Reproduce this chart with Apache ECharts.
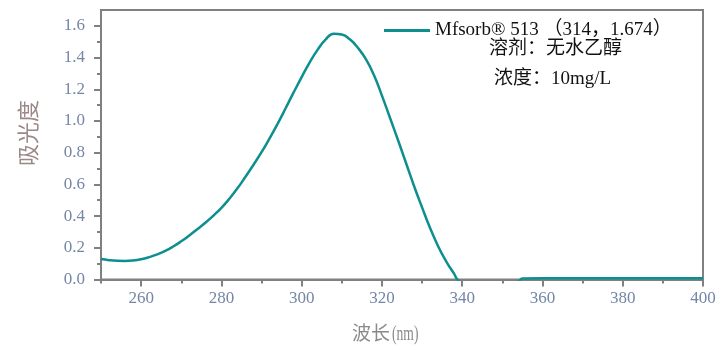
<!DOCTYPE html>
<html>
<head>
<meta charset="utf-8">
<script src="https://cdn.jsdelivr.net/npm/echarts@6/dist/echarts.min.js"></script>
<style>html,body{margin:0;padding:0;background:#fff}#c{width:728px;height:355px}</style>
</head>
<body>
<div id="c"></div>
<script>
const seriesName = 'Mfsorb® 513 （314，1.674）';
const note1 = '溶剂：无水乙醇';
const note2 = '浓度：10mg/L';
const xTitleMain = '波长';
const xTitleUnit = '(nm)';
const yTitle = '吸光度';
const wavelength = [250,252,254,256,258,260,262,264,266,268,270,272,274,276,278,280,282,284,286,288,290,292,294,296,298,300,302,304,306,308,310,312,314,316,318,320,322,324,326,328,330,332,334,336,338,339,341,345,350,354,355,360,370,380,390,400];
const absorbance = [0.129,0.122,0.118,0.117,0.12,0.128,0.141,0.158,0.18,0.208,0.241,0.278,0.317,0.358,0.403,0.452,0.51,0.575,0.648,0.724,0.803,0.89,0.982,1.08,1.18,1.277,1.37,1.45,1.515,1.55,1.545,1.515,1.462,1.39,1.29,1.16,1.02,0.88,0.735,0.59,0.455,0.325,0.21,0.115,0.035,-0.005,-0.03,-0.04,-0.03,-0.012,0.007,0.008,0.008,0.008,0.008,0.008];
const xMajor = [260,280,300,320,340,360,380,400];
const xMinor = [250,270,290,310,330,350,370,390];
const yMajor = [0,0.2,0.4,0.6,0.8,1.0,1.2,1.4,1.6];
const yMinor = [0.1,0.3,0.5,0.7,0.9,1.1,1.3,1.5];

const axisGray = '#808080';
const labelColor = '#7586a6';
const serif = '"Liberation Serif", "Noto Sans CJK SC", serif';
const data = wavelength.map((w, i) => [w, absorbance[i]]);

const chart = echarts.init(document.getElementById('c'));
chart.setOption({
  animation: false,
  grid: { left: 101, right: 25, top: 10, bottom: 75.5, show: true, borderColor: axisGray, borderWidth: 2, backgroundColor: 'transparent' },
  legend: {
    left: 379, top: 16, itemWidth: 46, itemHeight: 3, icon: 'rect',
    textStyle: { fontFamily: serif, fontSize: 19, color: '#111' },
    data: [seriesName]
  },
  xAxis: [{
    type: 'value', min: 250, max: 400,
    axisLine: { show: true, lineStyle: { color: axisGray, width: 2 } },
    axisTick: { show: true, customValues: xMajor, length: 7, lineStyle: { color: axisGray, width: 2 } },
    axisLabel: { customValues: xMajor, margin: 11, fontFamily: serif, fontSize: 17, color: labelColor },
    splitLine: { show: false }
  }, {
    type: 'value', min: 250, max: 400, position: 'bottom',
    axisLine: { show: false },
    axisTick: { show: true, customValues: xMinor, length: 4, lineStyle: { color: axisGray, width: 2 } },
    axisLabel: { show: false },
    splitLine: { show: false }
  }],
  yAxis: [{
    type: 'value', min: 0, max: 1.7,
    axisLine: { show: true, lineStyle: { color: axisGray, width: 2 } },
    axisTick: { show: true, customValues: yMajor, length: 7, lineStyle: { color: axisGray, width: 2 } },
    axisLabel: { customValues: yMajor, margin: 16, fontFamily: serif, fontSize: 17, color: labelColor, formatter: v => v.toFixed(1) },
    splitLine: { show: false }
  }, {
    type: 'value', min: 0, max: 1.7, position: 'left', offset: 0,
    axisLine: { show: false },
    axisTick: { show: true, customValues: yMinor, length: 4, lineStyle: { color: axisGray, width: 2 } },
    axisLabel: { show: false },
    splitLine: { show: false }
  }],
  series: [{
    name: seriesName, type: 'line', data: data, smooth: 0.5,
    showSymbol: false, clip: true,
    lineStyle: { color: '#0e8f8f', width: 2.5 }, itemStyle: { color: '#0e8f8f' }
  }],
  graphic: [
    { type: 'text', left: 489, top: 40, style: { text: note1, font: '19px ' + serif, fill: '#111' } },
    { type: 'text', left: 494, top: 70, style: { text: note2, font: '19px ' + serif, fill: '#111' } },
    { type: 'text', x: 352, y: 326, style: { text: xTitleMain, font: '19px ' + serif, fill: '#8a8a8a' } },
    { type: 'text', x: 392, y: 325, scaleX: 0.68, style: { text: xTitleUnit, font: '20px ' + serif, fill: '#8a8a8a' } },
    { type: 'text', left: 19, top: 100, rotation: Math.PI / 2, style: { text: yTitle, font: '22px ' + serif, fill: '#9c8888' } }
  ]
});
</script>
</body>
</html>
